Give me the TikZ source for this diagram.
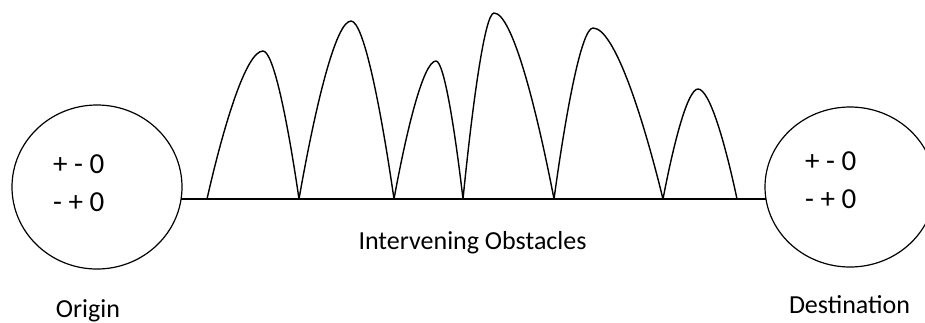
\documentclass[tikz,border=0pt]{standalone}
\usepackage{fontspec}
\setmainfont{Carlito}
\usetikzlibrary{shapes.geometric}
\begin{document}
\begin{tikzpicture}[x=1pt,y=-1pt,
  blob/.style={draw,line width=1.2pt,ellipse,inner sep=0pt,minimum width=170pt,minimum height=164pt},
  lbl/.style={inner sep=0pt,font=\fontsize{26}{30}\selectfont},
  sign/.style={inner sep=0pt,anchor=base west,font=\fontsize{29}{33}\selectfont},
  obst/.style={line width=1.4pt,line join=round}]
\useasboundingbox (0,0) rectangle (925,322);
\clip (0,0) rectangle (925,322);
\node[blob] (L) at (97,187) {};
\node[blob,minimum height=160pt] (R) at (850,187) {};
\node[sign] (l1) at (53,173) {+ - 0};
\node[sign] (l2) at (53,211) {- + 0};
\node[sign] (r1) at (805,170) {+ - 0};
\node[sign] (r2) at (805,208) {- + 0};
\node[lbl,anchor=base] (mid) at (472.5,249) {Intervening Obstacles};
\node[lbl,anchor=base] (org) at (88,317) {Origin};
\node[lbl,anchor=base] (dst) at (849.5,313) {Destination};
\coordinate (a) at (181,199);
\coordinate (b) at (766,199);
\draw[line width=1.6pt] (a) -- (b);
\draw[obst] (207,199)
  .. controls (223.8,125) and (246.2,51) .. (263,51)
  .. controls (273.8,51) and (288.2,125) .. (299,199)
  .. controls (314.6,110) and (335.4,21) .. (351,21)
  .. controls (363.9,21) and (381.1,110) .. (394,199)
  .. controls (406.6,130) and (423.4,61) .. (436,61)
  .. controls (444.1,61) and (454.9,130) .. (463,199)
  .. controls (472.3,106) and (484.7,13) .. (494,13)
  .. controls (512,13) and (536,106) .. (554,199)
  .. controls (565.7,113.5) and (581.3,28) .. (593,28)
  .. controls (614,28) and (642,113.5) .. (663,199)
  .. controls (673.5,144) and (687.5,89) .. (698,89)
  .. controls (709.7,89) and (725.3,144) .. (737,199);
\end{tikzpicture}
\end{document}
